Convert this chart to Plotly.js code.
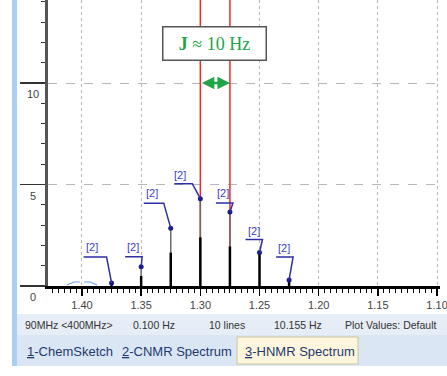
<!DOCTYPE html>
<html><head><meta charset="utf-8">
<script src="https://cdn.plot.ly/plotly-3.0.1.min.js"></script>
<style>html,body{margin:0;padding:0;background:#fff;overflow:hidden}#chart{width:447px;height:376px}</style>
</head><body><div id="chart"></div>
<script>
// ---- data ----
const peakPpm    = [1.375, 1.350, 1.325, 1.300, 1.275, 1.250, 1.225];
const peakHeight = [0.15, 0.95, 2.85, 4.30, 3.65, 1.65, 0.30];
const peakCore   = [0.10, 0.50, 1.65, 2.40, 1.95, 1.60, 0.20];
const peakLabel  = ['[2]', '[2]', '[2]', '[2]', '[2]', '[2]', '[2]'];
const cursorPpm  = [1.300, 1.275];
const couplingText = '<b>J</b> ≈ 10 Hz';
const xTickVals  = [1.40, 1.35, 1.30, 1.25, 1.20, 1.15, 1.10];
const yTickVals  = [0, 5, 10];
const yTickText  = ['0', '5', '10'];
const statusItems = ['90MHz <400MHz>', '0.100 Hz', '10 lines', '10.155 Hz', 'Plot Values: Default'];
const tabItems   = ['<u>1</u>-ChemSketch', '<u>2</u>-CNMR Spectrum', '<u>3</u>-HNMR Spectrum'];

// ---- layout helpers (pixel geometry) ----
const W = 447, H = 376, ML = 48, MR = 7, MT = 0, MB = 90;
const PW = W - ML - MR, PH = H - MT - MB;
const Y_RANGE = [0, 14.09];
const px = v => (v - ML) / PW;
const py = v => (PH + MT - v) / PH;
const leaderBend = [[-5,26,-28],[1,10,-16],[-7,25,-27],[-8,15,-26],[3,9,-14],[3,13,-14],[4,23,-13]];
const labelShift = [[-20,36],[-8,20],[-19,35],[-20,24],[-7,19],[-6,22],[-5,32]];
const statusX = [23, 131, 207, 272, 343];
const tabX = [25, 120, 243];
const FONT = 'Liberation Sans, Arial, sans-serif';

// sticks and cursor lines
const sx = [], sy = [], tx = [], ty = [], cx = [], cy = [];
peakPpm.forEach((p, i) => {
  sx.push(p, p, null); sy.push(0, peakCore[i], null);
  tx.push(p, p, null); ty.push(peakCore[i], peakHeight[i], null);
});
cursorPpm.forEach(c => { cx.push(c, c, null); cy.push(Y_RANGE[0], Y_RANGE[1], null); });

const traces = [
  {x: cx, y: cy, mode: 'lines', line: {color: '#ee2a2a', width: 1.5}, hoverinfo: 'skip', showlegend: false, cliponaxis: true},
  {x: tx, y: ty, mode: 'lines', line: {color: '#6a6a6a', width: 1.5}, hoverinfo: 'skip', showlegend: false},
  {x: sx, y: sy, mode: 'lines', line: {color: '#000', width: 2.5}, hoverinfo: 'skip', showlegend: false},
  {x: peakPpm, y: peakHeight, mode: 'markers', marker: {color: '#1b1b8c', size: 5}, hoverinfo: 'skip', showlegend: false}
];

const shapes = [];
shapes.push({type:'rect', xref:'paper', yref:'paper', x0:px(17), x1:px(W+5), y0:py(335), y1:py(314), fillcolor:'#e7edf6', line:{width:0}, layer:'below'});
shapes.push({type:'rect', xref:'paper', yref:'paper', x0:px(17), x1:px(W+5), y0:py(366), y1:py(335), fillcolor:'#dbe6f5', line:{width:0}, layer:'below'});
shapes.push({type:'rect', xref:'paper', yref:'paper', x0:px(237), x1:px(358), y0:py(364), y1:py(337), fillcolor:'#fdf6dc', line:{color:'#cfc49a', width:1}, layer:'above'});
shapes.push({type:'rect', xref:'paper', yref:'paper', x0:px(12), x1:px(17), y0:py(366), y1:py(-2), fillcolor:'#a9cff3', line:{width:0}, layer:'above'});
peakPpm.forEach((p, i) => {
  const b = leaderBend[i];
  shapes.push({type:'path', xref:'x', yref:'y', xsizemode:'pixel', ysizemode:'pixel', xanchor:p, yanchor:peakHeight[i],
    path:`M0,0 L${b[0]},${b[1]} L${b[2]},${b[1]}`, line:{color:'#2d2da6', width:1.5}});
});
shapes.push({type:'path', xref:'x', yref:'y', xsizemode:'pixel', ysizemode:'pixel', xanchor:xTickVals[0], yanchor:0,
  path:'M-15,1 L-8,4 L-2,4 M2,4 L8,4 L15,1', line:{color:'#6aa6e0', width:1.2}});

const annotations = [];
peakPpm.forEach((p, i) => annotations.push({x:p, y:peakHeight[i], xref:'x', yref:'y', text:peakLabel[i], showarrow:false,
  xanchor:'center', yanchor:'middle',
  xshift:labelShift[i][0], yshift:labelShift[i][1], font:{family:FONT, size:11, color:'#3b3bcc'}}));
yTickVals.forEach((v, i) => annotations.push({x:px(33), y:v, xref:'paper', yref:'y', text:yTickText[i], showarrow:false,
  xanchor:'center', yanchor:'middle', yshift:-11, font:{family:FONT, size:11, color:'#444'}}));
annotations.push({x:px(214.5), y:py(43.5), xref:'paper', yref:'paper', text:couplingText, showarrow:false,
  xanchor:'center', yanchor:'middle',
  font:{family:'Liberation Serif, Times New Roman, serif', size:18, color:'#22a548'},
  bgcolor:'#fff', bordercolor:'#555', borderwidth:1.5, borderpad:1, width:100, height:30});
annotations.push({x:cursorPpm[1], y:10, ax:cursorPpm[0], ay:10, xref:'x', yref:'y', axref:'x', ayref:'y', text:'',
  showarrow:true, arrowside:'end+start', arrowhead:2, arrowsize:1, arrowwidth:2.5, arrowcolor:'#22a548', standoff:0, startstandoff:0});
statusItems.forEach((s, i) => annotations.push({x:px(statusX[i]), y:py(325), xref:'paper', yref:'paper', xanchor:'left', yanchor:'middle',
  text:s.replace(/</g,'&lt;').replace(/>/g,'&gt;'), showarrow:false, font:{family:FONT, size:10.5, color:'#333'}}));
tabItems.forEach((s, i) => annotations.push({x:px(tabX[i]), y:py(351), xref:'paper', yref:'paper', xanchor:'left', yanchor:'middle',
  text:s, showarrow:false, font:{family:FONT, size:13, color:'#1e3a6e'}}));

const layout = {
  width: W, height: H,
  margin: {l: ML, r: MR, t: MT, b: MB, pad: 0},
  paper_bgcolor: '#fff', plot_bgcolor: '#fff',
  showlegend: false,
  xaxis: {
    range: [1.4287, 1.0975], tickvals: xTickVals, tickformat: '.2f',
    ticklabeloverflow: 'allow',
    showgrid: true, gridcolor: '#b8b8b8', griddash: 'dot', gridwidth: 1,
    zeroline: false, showline: true, linecolor: '#000', linewidth: 3,
    ticks: 'outside', ticklen: 7, tickwidth: 1.5, tickcolor: '#000',
    minor: {dtick: 0.005, tick0: 1.4, ticks: 'outside', ticklen: 4, tickwidth: 1, tickcolor: '#000', showgrid: false},
    tickfont: {family: FONT, size: 11, color: '#444'}, fixedrange: true
  },
  yaxis: {
    range: Y_RANGE, tickvals: yTickVals, showticklabels: false,
    showgrid: true, gridcolor: '#b8b8b8', griddash: 'dash', gridwidth: 1,
    zeroline: false, showline: true, linecolor: '#555', linewidth: 3,
    ticks: 'outside', ticklen: 25, tickwidth: 1.2, tickcolor: '#333',
    minor: {dtick: 1, tick0: 0, ticks: 'outside', ticklen: 4, tickwidth: 1, tickcolor: '#333', showgrid: false},
    fixedrange: true
  },
  shapes: shapes,
  annotations: annotations
};

Plotly.newPlot('chart', traces, layout, {staticPlot: true, displayModeBar: false});
</script>
</body></html>
